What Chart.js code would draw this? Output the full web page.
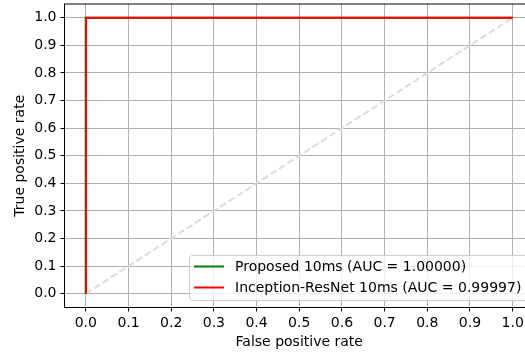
<!DOCTYPE html>
<html>
<head>
<meta charset="utf-8">
<script src="https://cdn.jsdelivr.net/npm/chart.js@4/dist/chart.umd.min.js"></script>
<style>
  html, body { margin: 0; padding: 0; background: #fff; overflow: hidden; }
  #wrap { width: 525px; height: 358px; overflow: hidden; }
  #box { width: 535px; height: 358px; }
</style>
</head>
<body>
<div id="wrap"><div id="box"><canvas id="roc"></canvas></div></div>
<script>
// tick labels
const xTicks = [0.0, 0.1, 0.2, 0.3, 0.4, 0.5, 0.6, 0.7, 0.8, 0.9, 1.0];
const yTicks = [0.0, 0.1, 0.2, 0.3, 0.4, 0.5, 0.6, 0.7, 0.8, 0.9, 1.0];

// ROC curves (fpr, tpr)
const proposedFpr  = [0.0, 0.0, 1.0];
const proposedTpr  = [0.0, 1.0, 1.0];
const inceptionFpr = [0.0, 0.0, 0.0, 1.0];
const inceptionTpr = [0.0, 0.0, 1.0, 1.0];
const chanceFpr = [0.0, 1.0];
const chanceTpr = [0.0, 1.0];

const labels = [
  'Proposed 10ms (AUC = 1.00000)',
  'Inception-ResNet 10ms (AUC = 0.99997)'
];

const FONT = '"DejaVu Sans", sans-serif';
const pts = (xs, ys) => xs.map((x, i) => ({ x, y: ys[i] }));

// full box around plot (top spine)
const frame = {
  id: 'frame',
  afterDraw(chart) {
    const { ctx, chartArea: a } = chart;
    ctx.save();
    ctx.strokeStyle = '#000';
    ctx.lineWidth = 1;
    ctx.strokeRect(a.left, a.top, a.right - a.left, a.bottom - a.top);
    ctx.restore();
  }
};

// matplotlib-like legend in lower right of axes
const boxLegend = {
  id: 'boxLegend',
  afterDraw(chart) {
    const { ctx } = chart;
    const x0 = 189.5, y0 = 255.5, w = 350, h = 45;
    ctx.save();
    ctx.fillStyle = 'rgba(255,255,255,0.8)';
    ctx.strokeStyle = '#cccccc';
    ctx.lineWidth = 1;
    ctx.beginPath();
    ctx.roundRect(x0, y0, w, h, 3);
    ctx.fill();
    ctx.stroke();
    ctx.font = '14px ' + FONT;
    ctx.textBaseline = 'middle';
    const rows = [chart.data.datasets[1], chart.data.datasets[2]];
    rows.forEach((ds, i) => {
      const cy = 266.5 + i * 21;
      ctx.strokeStyle = ds.borderColor;
      ctx.lineWidth = 2;
      ctx.beginPath();
      ctx.moveTo(194, cy);
      ctx.lineTo(224, cy);
      ctx.stroke();
      ctx.fillStyle = '#000';
      ctx.fillText(ds.label, 235, cy + 0.5);
    });
    ctx.restore();
  }
};

new Chart(document.getElementById('roc'), {
  type: 'scatter',
  data: {
    datasets: [
      { label: 'chance', data: pts(chanceFpr, chanceTpr), showLine: true, order: 3,
        borderColor: '#dcdcdc', borderWidth: 2, borderDash: [7, 3], pointRadius: 0 },
      { label: labels[0], data: pts(proposedFpr, proposedTpr), showLine: true, order: 2,
        borderColor: 'green', borderWidth: 2, pointRadius: 0 },
      { label: labels[1], data: pts(inceptionFpr, inceptionTpr), showLine: true, order: 1,
        borderColor: 'red', borderWidth: 2, pointRadius: 0 }
    ]
  },
  options: {
    responsive: true,
    maintainAspectRatio: false,
    animation: false,
    layout: { padding: { top: 4, right: 1, left: 0, bottom: 0 } },
    plugins: { legend: { display: false }, tooltip: { enabled: false } },
    scales: {
      x: {
        type: 'linear', min: -0.05, max: 1.05,
        afterBuildTicks: s => { s.ticks = xTicks.map(v => ({ value: v })); },
        afterFit: s => { s.height = 50.5; s.paddingLeft = 0; s.paddingRight = 0; },
        ticks: { color: '#000', font: { family: FONT, size: 14 }, padding: 3,
                 maxRotation: 0, callback: v => v.toFixed(1) },
        grid: { color: '#b0b0b0', lineWidth: 1, tickColor: '#000', tickLength: 4 },
        border: { color: '#000', width: 1 },
        title: { display: true, text: 'False positive rate', color: '#000',
                 font: { family: FONT, size: 14 }, padding: { top: 2, bottom: 7 } }
      },
      y: {
        type: 'linear', min: -0.05, max: 1.05,
        afterBuildTicks: s => { s.ticks = yTicks.map(v => ({ value: v })); },
        afterFit: s => { s.width = 64.5; s.paddingTop = 0; s.paddingBottom = 0; },
        ticks: { color: '#000', font: { family: FONT, size: 14 }, padding: 4,
                 callback: v => v.toFixed(1) },
        grid: { color: '#b0b0b0', lineWidth: 1, tickColor: '#000', tickLength: 4 },
        border: { color: '#000', width: 1 },
        title: { display: true, text: 'True positive rate', color: '#000',
                 font: { family: FONT, size: 14 }, padding: { top: 12, bottom: 4 } }
      }
    }
  },
  plugins: [frame, boxLegend]
});
</script>
</body>
</html>
